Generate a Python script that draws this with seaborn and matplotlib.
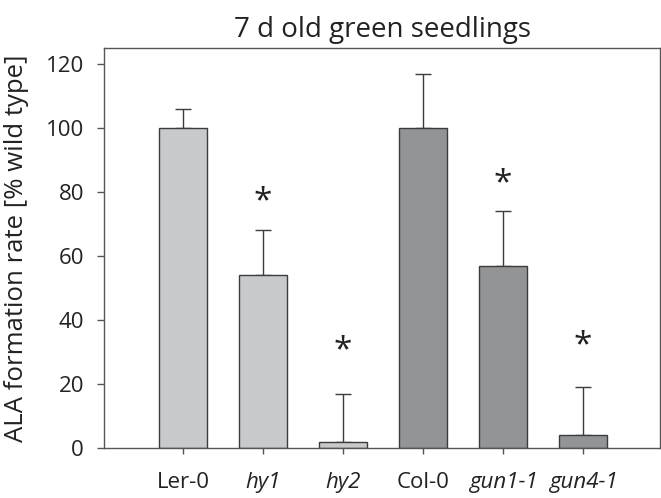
import matplotlib
matplotlib.use("Agg")
import matplotlib.pyplot as plt
import seaborn as sns
import pandas as pd

categories = ["Ler-0", "hy1", "hy2", "Col-0", "gun1-1", "gun4-1"]
values = [100, 54, 2, 100, 57, 4]
errors = [6, 14, 15, 17, 17, 15]
groups = ["Ler", "Ler", "Ler", "Col", "Col", "Col"]
significant = [False, True, True, False, True, True]
italic = [False, True, True, False, True, True]
star_y = [None, 77, 30.5, None, 82.5, 32]

sns.set_theme(style="white")
plt.rcParams['font.family'] = ['Open Sans', 'DejaVu Sans']

df = pd.DataFrame({"genotype": categories, "rate": values, "group": groups})

fig = plt.figure(figsize=(6.61, 4.98), dpi=100)
ax = fig.add_axes([104/661, 1 - 448/498, (660-104)/661, (448-48)/498])

palette = {"Ler": "#c8c9cb", "Col": "#929497"}
sns.barplot(data=df, x="genotype", y="rate", hue="group", palette=palette,
            dodge=False, width=0.6, edgecolor="#3c3c3c", linewidth=1.0,
            legend=False, ax=ax, zorder=2)

ax.errorbar(range(len(categories)), values, yerr=[[0]*len(errors), errors],
            fmt="none", ecolor="#3c3c3c", elinewidth=1.0, capsize=6,
            capthick=1.0, zorder=1)

for i, s in enumerate(significant):
    if s:
        ax.text(i, star_y[i], "*", ha="center", va="center", fontsize=24,
                color="#222222")

ax.set_xlim(-0.99, 5.96)
ax.set_ylim(0, 125)
ax.set_yticks([0, 20, 40, 60, 80, 100, 120])
ax.set_xticks(range(len(categories)))
ax.set_xticklabels(categories, fontsize=16, color="#222222")
for lbl, it in zip(ax.get_xticklabels(), italic):
    if it:
        lbl.set_style("italic")
ax.tick_params(axis="y", labelsize=16, colors="#555555", labelcolor="#222222",
               direction="out", length=5, width=1, left=True, pad=9.4)
ax.tick_params(axis="x", colors="#555555", labelcolor="#222222",
               direction="out", length=4.5, width=1, bottom=True, pad=13)
ax.set_xlabel("")
ax.set_ylabel("ALA formation rate [% wild type]", fontsize=18.5, color="#222222")
ax.yaxis.set_label_coords(-(104-29)/556, 0.5)
for sp in ax.spines.values():
    sp.set_color("#555555")
    sp.set_linewidth(1.0)
    sp.set_visible(True)

fig.text((104+660)/2/661, 1 - 30/498, "7 d old green seedlings", ha="center",
         va="center", fontsize=20, color="#222222")

fig.savefig("out.png", dpi=100)
